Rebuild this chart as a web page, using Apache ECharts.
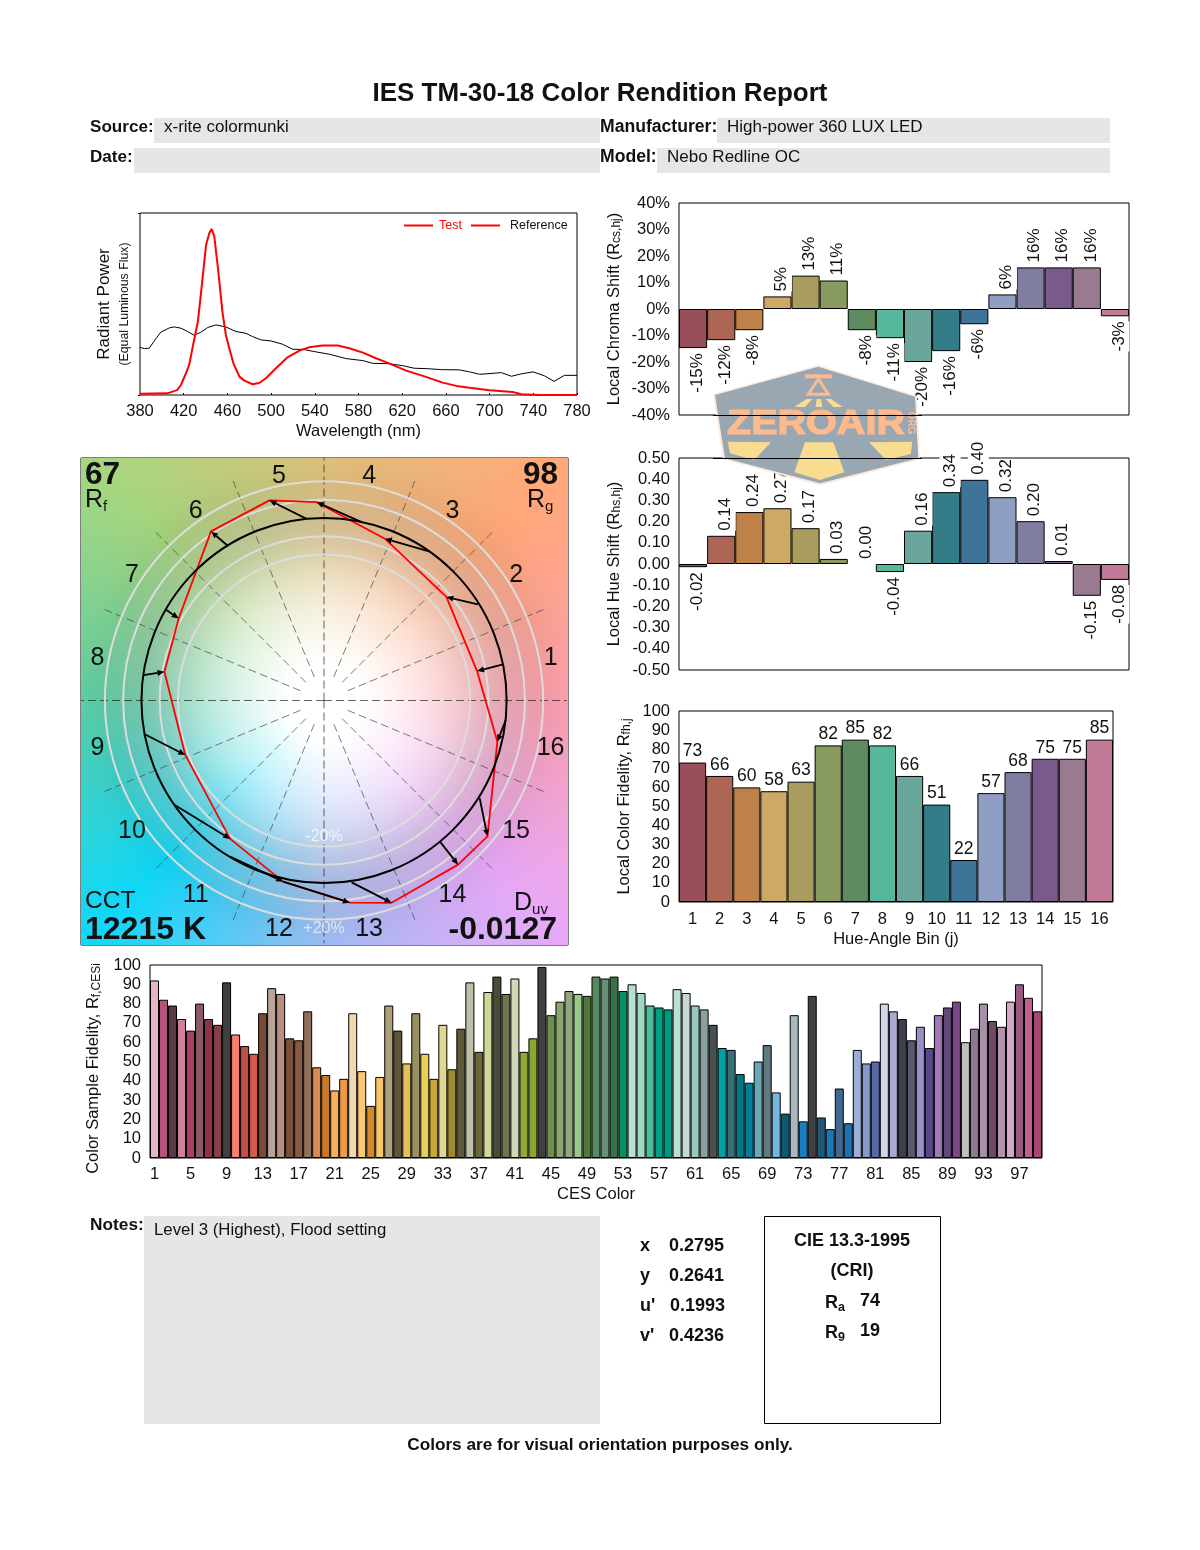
<!DOCTYPE html>
<html><head><meta charset="utf-8"><style>html,body{margin:0;padding:0;background:#fff}#c{width:1200px;height:1550px}</style>
<script src="https://cdn.jsdelivr.net/npm/echarts@6/dist/echarts.min.js"></script></head><body><div id="c"></div>
<script>
const FONT='"Liberation Sans",Arial,sans-serif';
const binNames=['1','2','3','4','5','6','7','8','9','10','11','12','13','14','15','16'];
const binColors=['#984f5a','#ad6656','#bd8149','#ccaa66','#a99c5f','#889a5e','#5e8b60','#55b79b','#6ba69c','#347d88','#3e7498','#8e9fc3','#807ea0','#785a8c','#997a90','#c07a98'];
const chromaValues=[-14.75,-11.75,-8,4.75,12.6,10.75,-8,-11,-20,-15.9,-5.75,5.5,15.7,15.7,15.7,-2.75];
const chromaLabels=['-15%','-12%','-8%','5%','13%','11%','-8%','-11%','-20%','-16%','-6%','6%','16%','16%','16%','-3%'];
const hueValues=[-0.015,0.133,0.245,0.263,0.169,0.024,0,-0.038,0.157,0.339,0.397,0.315,0.202,0.014,-0.15,-0.075];
const hueLabels=['-0.02','0.14','0.24','0.27','0.17','0.03','0.00','-0.04','0.16','0.34','0.40','0.32','0.20','0.01','-0.15','-0.08'];
const fidelityValues=[73,66,60,58,63,82,85,82,66,51,22,57,68,75,75,85];
const cesValues=[92,82,79,72,66,80,72,69,91,64,58,54,75,88,85,62,61,76,47,43,35,41,75,45,27,42,79,66,49,75,54,41,69,46,67,91,55,86,94,85,93,55,62,99,74,81,86.5,85,84,94,93,94,86.5,90,85.5,79,78,77,87.5,85.5,79,77,69,57,56,43.5,39,50,58.5,34,23,74,19,84,21,15,36,18,56,49,50,80,76,72,61,68,57,74,78,81,60,67,80,71,68,81,90,83,76];
const cesColors=['#e8b3c8','#b85080','#5a3a44','#d07f98','#a84060','#8a5a68','#8e3448','#85404a','#404040','#f67f70','#c05048','#d85a48','#7a4a38','#b8a498','#b89080','#7a5038','#8a5a40','#907058','#d88a50','#c87828','#f8b060','#f09a48','#f0d8b0','#f8c878','#d08a28','#f8c868','#b0a078','#605438','#e8c058','#989060','#e8d058','#c8a838','#e0d890','#a08c30','#605838','#c0c0a8','#6c6838','#d0d898','#484c38','#6c7450','#d0d8b8','#90a838','#88a830','#404040','#6a9050','#88a870','#90a880','#98c888','#507838','#588860','#689078','#387048','#089060','#b8e0d0','#a0d8c0','#48c0a0','#00a080','#009880','#b8e0d8','#c8d8d0','#98c8c0','#88a0a0','#485050','#00a0a8','#387078','#007888','#008098','#68a8b8','#607880','#70b8e0','#105870','#a8b8c0','#1880c0','#404040','#205878','#1878b8','#406890','#2070b8','#98b0d8','#8898c8','#5868a8','#d0d8e8','#a8a8d0','#404048','#585870','#9890c8','#584888','#a078b8','#604878','#784888','#c0c0c0','#907890','#a890a8','#704868','#b890b0','#d0a8c8','#985880','#c06090','#a84870'];
const cesNames=cesValues.map((v,i)=>String(i+1));
const specTicks=[380,420,460,500,540,580,620,660,700,740,780];
const testSpectrum=[[380,.007],[405,.009],[414,.027],[417.5,.055],[422,.119],[425,.165],[428,.257],[433,.404],[436,.569],[440.5,.826],[443.5,.89],[445.6,.912],[448,.872],[451,.716],[455.6,.45],[458.6,.33],[461.7,.257],[465.5,.174],[471,.101],[475.6,.079],[483,.059],[489,.066],[495.3,.092],[504.5,.147],[515,.207],[526,.244],[535,.262],[547,.272],[561,.272],[571.6,.257],[584,.233],[596,.202],[608,.174],[623.6,.134],[639,.105],[657,.068],[669.5,.05],[681.7,.04],[700,.026],[721,.017],[729,.004],[746,0],[780,0]];
const refSpectrum=[[380,.262],[384,.255],[388.5,.257],[393,.297],[399,.345],[407,.369],[411.5,.374],[417.5,.367],[423.5,.349],[429.6,.328],[435.7,.345],[442,.371],[449.6,.385],[458.6,.374],[467.8,.349],[477,.339],[483,.321],[490.6,.303],[500,.297],[510.5,.279],[520,.251],[529,.251],[541,.237],[553.4,.224],[568.7,.2],[584,.189],[593,.174],[608,.172],[620.6,.161],[631,.147],[642,.145],[657,.139],[672.5,.138],[681.7,.127],[690.8,.114],[698.5,.117],[710.7,.123],[720,.103],[729,.116],[739.7,.127],[750,.106],[759,.075],[768.5,.108],[780,.108]];
const refX=[0.980,0.843,0.575,0.206,-0.098,-0.526,-0.863,-0.987,-0.982,-0.820,-0.514,-0.224,0.151,0.638,0.852,0.995];
const refY=[0.198,0.526,0.817,0.977,0.996,0.846,0.495,0.139,-0.185,-0.571,-0.854,-0.992,-0.996,-0.777,-0.534,-0.107];
const testX=[0.838,0.670,0.333,-0.040,-0.299,-0.619,-0.796,-0.874,-0.760,-0.514,-0.224,0.142,0.370,0.734,0.895,0.949];
const testY=[0.161,0.567,0.886,1.086,1.096,0.926,0.449,0.157,-0.298,-0.758,-0.992,-1.107,-1.108,-0.899,-0.744,-0.225];
const ringRadii=[0.8,0.9,1.1,1.2];
const radialAngles=[0,22.5,45,67.5,90,112.5,135,157.5,180,202.5,225,247.5,270,292.5,315,337.5];
const bgStops=[[0,255,160,176],[45,255,168,120],[90,226,196,126],[135,165,214,127],[180,95,208,168],[225,16,216,248],[270,160,192,248],[315,232,168,248],[360,255,160,176]];

function makeBg(){
  const S=487,cv=document.createElement('canvas');cv.width=cv.height=S;
  const ctx=cv.getContext('2d'),im=ctx.createImageData(S,S),d=im.data;
  for(let j=0;j<S;j++)for(let i=0;i<S;i++){
    const dx=i-243,dy=242.5-j,r=Math.hypot(dx,dy);
    let a=Math.atan2(dy,dx)*180/Math.PI;if(a<0)a+=360;
    let k=Math.min(7,Math.floor(a/45));const f=(a-bgStops[k][0])/45;
    const t=Math.pow(Math.min(1,Math.max(0,(r-35)/190)),1.1);
    const dim=1-0.1*Math.exp(-Math.pow((r-180)/50,2));
    const p=(j*S+i)*4;
    for(let c=0;c<3;c++){
      const col=bgStops[k][c+1]*(1-f)+bgStops[k+1][c+1]*f;
      d[p+c]=(255*(1-t)+col*t)*dim;
    }
    d[p+3]=255;
  }
  ctx.putImageData(im,0,0);return cv;
}
function T(x,y,text,o){o=o||{};const st={text:text,fontFamily:FONT,fontSize:o.size||17,fontWeight:o.bold?'bold':'normal',fill:o.fill||'#111',align:o.align||'left',verticalAlign:'middle',rich:o.rich};
  if(o.stroke){st.stroke=o.fill;st.lineWidth=o.stroke;}
  return {type:'text',x:x,y:o.rich?y:y+2,z:o.z||5,rotation:o.rot||0,scaleX:o.sx||1,silent:true,style:st};}
function Box(x,y,w,h,o){o=o||{};return {type:'rect',z:1,silent:true,shape:{x:x,y:y,width:w,height:h},style:{fill:o.fill||'#e6e6e6',stroke:o.stroke||null,lineWidth:o.stroke?1:0}};}
function Poly(pts,fill,z){return {type:'polygon',z:z||50,silent:true,shape:{points:pts},style:{fill:fill}};}
function subRich(main,sub,lh,bold){return {m:{fontFamily:FONT,fontSize:main,lineHeight:lh,fontWeight:bold?'bold':'normal',fill:'#111',color:'#111'},s:{fontFamily:FONT,fontSize:sub,lineHeight:lh,verticalAlign:'bottom',fill:'#111',color:'#111',fontWeight:bold?'bold':'normal'}};}

const orange='#fdba8c',yellow='#f8dc90',BL=17.6,BV=18;
const graphics=[
 {type:'image',z:0,silent:true,style:{image:makeBg(),x:81,y:458,width:487,height:487}},
 T(600,92,'IES TM-30-18 Color Rendition Report',{bold:true,size:26,align:'center'}),
 Box(154,118,446,25),Box(717,118,393,25),Box(134,148,466,25),Box(657,148,453,25),Box(144,1216,456,208),
 Box(764.5,1216.5,176,207,{fill:'#fff',stroke:'#000'}),
 T(90,125,'Source:',{bold:true,size:BL-.5}),T(164,125,'x-rite colormunki'),
 T(600,125,'Manufacturer:',{bold:true,size:BL}),T(727,125,'High-power 360 LUX LED'),
 T(90,155,'Date:',{bold:true,size:BL-.5}),T(600,155,'Model:',{bold:true,size:BL}),T(667,155,'Nebo Redline OC'),
 T(90,1223,'Notes:',{bold:true,size:BL-.3}),T(154,1228,'Level 3 (Highest), Flood setting',{size:16.8}),
 T(640,1244,'x',{bold:true,size:BV}),T(669,1244,'0.2795',{bold:true,size:BV}),
 T(640,1274,'y',{bold:true,size:BV}),T(669,1274,'0.2641',{bold:true,size:BV}),
 T(640,1304,"u'",{bold:true,size:BV}),T(670,1304,'0.1993',{bold:true,size:BV}),
 T(640,1334,"v'",{bold:true,size:BV}),T(669,1334,'0.4236',{bold:true,size:BV}),
 T(852,1239,'CIE 13.3-1995',{bold:true,size:BV,align:'center'}),T(852,1269,'(CRI)',{bold:true,size:BV,align:'center'}),
 T(825,1303,'{m|R}{s|a}',{rich:subRich(18,12.5,22,true)}),T(860,1299,'74',{bold:true,size:BV}),
 T(825,1333,'{m|R}{s|9}',{rich:subRich(18,12.5,22,true)}),T(860,1329,'19',{bold:true,size:BV}),
 T(600,1443,'Colors are for visual orientation purposes only.',{bold:true,size:17.2,align:'center'}),
 T(125,302,'(Equal Luminous Flux)',{size:12.3,align:'center',rot:Math.PI/2}),
 T(85,473,'67',{bold:true,size:31.5}),T(85,500,'{m|R}{s|f}',{rich:subRich(25,15,28)}),
 T(558,473,'98',{bold:true,size:31.5,align:'right'}),T(527,500,'{m|R}{s|g}',{rich:subRich(25,15,28)}),
 T(85,899,'CCT',{size:24.5}),T(85,928,'12215 K',{bold:true,size:32}),
 T(514,903,'{m|D}{s|uv}',{rich:subRich(25,15,28)}),T(557,928,'-0.0127',{bold:true,size:32,align:'right'}),
 T(324,927,'+20%',{size:16,align:'center',fill:'#dfe6f0'}),T(324,835,'-20%',{size:16,align:'center',fill:'#f0f3f8'}),
 {type:'polygon',z:49,silent:true,shape:{points:[[818.5,365],[917,396],[920,459.5],[820,485.5],[723,459.5],[713,394]]},style:{fill:'#fdeadd'}},
 Poly([[818.3,366.7],[915,396.7],[918.3,458.3],[820,483.3],[725,458.3],[715,395]],'#99a7b3'),
 Poly([[805,442.3],[833.3,442.3],[844.3,472.3],[820,480],[794.3,472.3]],yellow,51),
 Poly([[727.7,441.7],[771,442.3],[754.3,460],[730,453.3]],yellow,51),
 Poly([[869,442.3],[912.3,441.7],[910.7,454],[886,460]],yellow,51),
 Poly([[816.7,399],[821,399],[822.3,407],[815.7,407]],yellow,51),
 Poly([[806.7,399],[812.3,399],[805,407],[794.3,407]],yellow,51),
 Poly([[825.7,399],[831,399],[842.7,407],[833.3,407]],yellow,51),
 Poly([[805,374.3],[831.7,374.3],[831.7,378.3],[805,378.3]],orange,51),
 {type:'polygon',z:51,silent:true,shape:{points:[[818.3,379],[808.3,394.3],[828.3,394.3]]},style:{fill:'none',stroke:orange,lineWidth:3}},
 T(727,422,'ZEROAIR',{bold:true,size:35,fill:orange,sx:1.13,z:52,stroke:1.2}),
 T(911,421,'ORG',{bold:true,size:10,fill:orange,align:'center',rot:-Math.PI/2,z:52}),
 {type:'line',z:53,silent:true,shape:{x1:713,y1:415.5,x2:922,y2:415.5},style:{stroke:'#000',lineWidth:1}},
 {type:'line',z:53,silent:true,shape:{x1:713,y1:458.5,x2:922,y2:458.5},style:{stroke:'#000',lineWidth:1}}
];

function barItems(vals,cols,labels){
  return vals.map((v,i)=>{
    const neg=v<0;
    return {value:v,itemStyle:{color:cols[i],borderWidth:v===0?0:1},label:{show:true,formatter:labels[i],fontFamily:FONT,fontSize:17,color:'#111',
      position:neg?'bottom':'top',distance:5,rotate:90,align:neg?'right':'left',verticalAlign:'middle',
      backgroundColor:'#fff',padding:[2,0,2,0],offset:[0,4]}};
  });
}
const catAxis=(g,names,o)=>Object.assign({type:'category',gridIndex:g,data:names,position:'bottom',axisLine:{show:false,onZero:false},axisTick:{show:false},axisLabel:{show:false},splitLine:{show:false}},o||{});
const valAxis=(g,min,max,step,fmt,name,gap,extra)=>({type:'value',gridIndex:g,min:min,max:max,interval:step,splitLine:{show:false},axisLine:{show:false},axisTick:{show:false},
  axisLabel:{fontFamily:FONT,fontSize:16.5,color:'#111',margin:9,formatter:fmt},name:name,nameLocation:'middle',nameRotate:90,nameGap:gap,
  nameTextStyle:Object.assign({fontFamily:FONT,fontSize:16.5,color:'#111',rich:subRich(16.5,12,18)},extra||{})});
const frame={show:true,borderColor:'#000',borderWidth:1,backgroundColor:'transparent',containLabel:false};
const px=g=>Object.assign({},frame,g);
const hidden=(g,min,max)=>({type:'value',gridIndex:g,min:min,max:max,show:false,splitLine:{show:false}});
const P={xAxisIndex:5,yAxisIndex:5,silent:true,animation:false,clip:false};

const option={
 animation:false,
 backgroundColor:'#fff',
 textStyle:{fontFamily:FONT},
 graphic:graphics,
 legend:{left:404,top:219,padding:0,itemGap:9,itemWidth:29,itemHeight:2,icon:'rect',selectedMode:false,textStyle:{fontFamily:FONT,fontSize:12.5},
   data:[{name:'Test',itemStyle:{color:'#f00'},textStyle:{color:'#f00',padding:[0,0,0,1]}},{name:'Reference',itemStyle:{color:'#f00'},textStyle:{color:'#111',padding:[0,0,0,5]}}]},
 grid:[px({left:140,top:213,width:437,height:182}),px({left:679,top:203,width:450,height:212}),px({left:679,top:458,width:450,height:212}),
   px({left:679,top:711,width:434,height:191}),px({left:150,top:965,width:892,height:193}),px({left:81,top:458,width:487,height:487})],
 xAxis:[
  {type:'value',gridIndex:0,min:380,max:780,interval:20,splitLine:{show:false},axisLine:{show:false,onZero:false},
   axisTick:{show:true,inside:true,length:2,customValues:specTicks,lineStyle:{color:'#000'}},
   axisLabel:{fontFamily:FONT,fontSize:16.5,color:'#111',margin:8,customValues:specTicks,hideOverlap:false,showMinLabel:true,showMaxLabel:true},
   name:'Wavelength (nm)',nameLocation:'middle',nameGap:28,nameTextStyle:{fontFamily:FONT,fontSize:16.5,color:'#111'}},
  catAxis(1,binNames),catAxis(2,binNames),
  catAxis(3,binNames,{axisLabel:{show:true,interval:0,fontFamily:FONT,fontSize:16.5,color:'#111',margin:9},name:'Hue-Angle Bin (j)',nameLocation:'middle',nameGap:29,nameTextStyle:{fontFamily:FONT,fontSize:16.5,color:'#111'}}),
  catAxis(4,cesNames,{axisLabel:{show:true,interval:3,fontFamily:FONT,fontSize:16.5,color:'#111',margin:8},name:'CES Color',nameLocation:'middle',nameGap:28,nameTextStyle:{fontFamily:FONT,fontSize:16.5,color:'#111'}}),
  hidden(5,-1.331,1.336)
 ],
 yAxis:[
  {type:'value',gridIndex:0,min:0,max:1,interval:1,splitLine:{show:false},axisLine:{show:false},axisTick:{show:true,length:2,lineStyle:{color:'#000'}},axisLabel:{show:false},
   name:'Radiant Power',nameLocation:'middle',nameRotate:90,nameGap:27,nameTextStyle:{fontFamily:FONT,fontSize:17,color:'#111'}},
  valAxis(1,-40,40,10,v=>v+'%','{m|Local Chroma Shift (R}{s|cs,hj}{m|)}',56),
  valAxis(2,-0.5,0.5,0.1,v=>v.toFixed(2),'{m|Local Hue Shift (R}{s|hs,hj}{m|)}',56),
  valAxis(3,0,100,10,v=>v,'{m|Local Color Fidelity, R}{s|fh,j}',46),
  valAxis(4,0,100,10,v=>v,'{m|Color Sample Fidelity, R}{s|f,CESi}',47,{padding:[0,14,0,0]}),
  hidden(5,-1.339,1.328)
 ],
 series:[
  {type:'line',name:'Test',xAxisIndex:0,yAxisIndex:0,data:testSpectrum,showSymbol:false,lineStyle:{color:'#f00',width:2},itemStyle:{color:'#f00'},z:3},
  {type:'line',name:'Reference',xAxisIndex:0,yAxisIndex:0,data:refSpectrum,showSymbol:false,lineStyle:{color:'#000',width:1},itemStyle:{color:'#000'},z:2},
  {type:'bar',xAxisIndex:1,yAxisIndex:1,barWidth:'100%',itemStyle:{borderColor:'#000',borderWidth:1},data:barItems(chromaValues,binColors,chromaLabels)},
  {type:'bar',xAxisIndex:2,yAxisIndex:2,barWidth:'100%',itemStyle:{borderColor:'#000',borderWidth:1},data:barItems(hueValues,binColors,hueLabels)},
  {type:'bar',xAxisIndex:3,yAxisIndex:3,barWidth:'100%',itemStyle:{borderColor:'#000',borderWidth:1},
   label:{show:true,position:'top',distance:2,fontFamily:FONT,fontSize:17.5,color:'#111'},
   data:fidelityValues.map((v,i)=>({value:v,itemStyle:{color:binColors[i]}}))},
  {type:'bar',xAxisIndex:4,yAxisIndex:4,barWidth:'100%',itemStyle:{borderColor:'#000',borderWidth:1},
   data:cesValues.map((v,i)=>({value:v,itemStyle:{color:cesColors[i]}}))},
  Object.assign({type:'custom',data:radialAngles.map(a=>[a,0]),z:3,renderItem:(p,api)=>{
    const a=api.value(0)*Math.PI/180,straight=api.value(0)%90===0,R=straight?1.33:1.31,R0=straight?0:0.14;
    const c=api.coord([R0*Math.cos(a),R0*Math.sin(a)]),e=api.coord([R*Math.cos(a),R*Math.sin(a)]);
    return {type:'line',shape:{x1:c[0],y1:c[1],x2:e[0],y2:e[1]},style:{stroke:straight?'#222':'#444',lineWidth:.7,lineDash:[8,4],fill:null}};
  }},P),
  Object.assign({type:'custom',data:ringRadii.map(r=>[r,0]),z:4,renderItem:(p,api)=>{
    const c=api.coord([0,0]),e=api.coord([api.value(0),0]);
    return {type:'circle',shape:{cx:c[0],cy:c[1],r:e[0]-c[0]},style:{fill:'none',stroke:'#dcdcdc',lineWidth:2}};
  }},P),
  Object.assign({type:'line',data:testX.concat(testX[0]).map((x,i)=>[x,testY.concat(testY[0])[i]]),showSymbol:false,lineStyle:{color:'#f00',width:1.8},z:5},P),
  Object.assign({type:'custom',data:[[1,0]],z:6,renderItem:(p,api)=>{
    const c=api.coord([0,0]),e=api.coord([api.value(0),0]);
    return {type:'circle',shape:{cx:c[0],cy:c[1],r:e[0]-c[0]},style:{fill:'none',stroke:'#000',lineWidth:2}};
  }},P),
  Object.assign({type:'custom',data:refX.map((x,i)=>[x,refY[i],testX[i],testY[i]]),z:7,renderItem:(p,api)=>{
    const b=api.coord([api.value(0),api.value(1)]),h=api.coord([api.value(2),api.value(3)]);
    const dx=h[0]-b[0],dy=h[1]-b[1],l=Math.hypot(dx,dy)||1,ux=dx/l,uy=dy/l,L=7,Wd=3;
    const m=[h[0]-ux*L,h[1]-uy*L];
    return {type:'group',children:[
      {type:'line',shape:{x1:b[0],y1:b[1],x2:m[0],y2:m[1]},style:{stroke:'#000',lineWidth:1.8,fill:null}},
      {type:'polygon',shape:{points:[h,[m[0]-uy*Wd,m[1]+ux*Wd],[m[0]+uy*Wd,m[1]-ux*Wd]]},style:{fill:'#000'}}
    ]};
  }},P),
  Object.assign({type:'custom',data:binNames.map((n,i)=>[i,0]),z:8,renderItem:(p,api)=>{
    const i=api.value(0),a=(i+0.5)*22.5*Math.PI/180,e=api.coord([1.265*Math.cos(a),1.265*Math.sin(a)]);
    return {type:'text',x:e[0],y:e[1]+2.5,style:{text:binNames[i],fontFamily:FONT,fontSize:25,fill:'#111',align:'center',verticalAlign:'middle'}};
  }},P)
 ]
};
const chart=echarts.init(document.getElementById('c'),null,{renderer:'canvas',width:1200,height:1550});
chart.setOption(option);
</script></body></html>
